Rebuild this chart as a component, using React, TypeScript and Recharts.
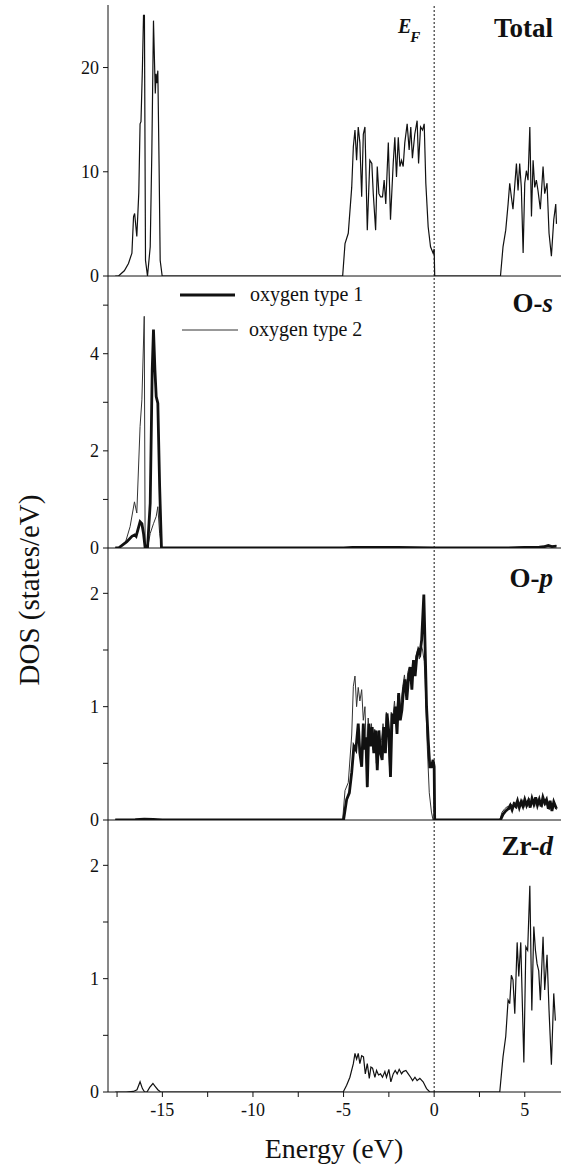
import { LineChart, Line, XAxis, YAxis, ReferenceLine } from 'recharts';

type Pt = [number, number];

const energyDomain: [number, number] = [-18, 7];
const energyTicks = [-17.5, -15, -12.5, -10, -7.5, -5, -2.5, 0, 2.5, 5];
const energyLabels = [-15, -10, -5, 0, 5];

// Total DOS
const totalDos: Pt[] = [
  [-17.6, 0], [-17.42, 0], [-17.1, 0.5], [-16.87, 1.2], [-16.68, 2.2], [-16.59, 5.7], [-16.53, 6.0],
  [-16.41, 3.8], [-16.3, 8], [-16.23, 14.6], [-16.18, 14.8], [-16.1, 20], [-16.04, 25.0], [-15.99, 25.0],
  [-15.93, 1.5], [-15.82, 0], [-15.67, 2.8], [-15.58, 12], [-15.49, 24.5], [-15.39, 17.5], [-15.35, 19.4],
  [-15.31, 18.5], [-15.25, 19.7], [-15.18, 10.5], [-15.12, 1.5], [-15.01, 0],
  [-5.05, 0], [-4.92, 3.1], [-4.74, 4.1], [-4.55, 8.5], [-4.46, 12.4], [-4.37, 14], [-4.28, 11.1],
  [-4.19, 14.3], [-4.1, 12.8], [-4.0, 7.6], [-3.91, 13.6], [-3.82, 14.3], [-3.69, 4.4], [-3.55, 11.1],
  [-3.44, 10.8], [-3.36, 7.9], [-3.23, 4.4], [-3.14, 10.5], [-3.05, 7.9], [-2.96, 7.6], [-2.85, 7.6],
  [-2.76, 9.2], [-2.67, 6.9], [-2.53, 12.8], [-2.41, 5.4], [-2.26, 10.8], [-2.17, 13.3], [-2.08, 9.5],
  [-1.98, 13.3], [-1.89, 10.5], [-1.8, 11.1], [-1.71, 10.5], [-1.62, 12.8], [-1.49, 14.6], [-1.38, 12.1],
  [-1.29, 14.3], [-1.2, 11.3], [-1.07, 13.6], [-0.94, 14.9], [-0.86, 10.8], [-0.75, 14.3], [-0.64, 14],
  [-0.55, 14.6], [-0.46, 8.9], [-0.33, 4.7], [-0.2, 2.8], [-0.06, 2.2], [0, 2.6], [0.03, 0],
  [3.66, 0], [3.8, 2.8], [3.95, 4.4], [4.08, 6.9], [4.17, 8.9], [4.26, 7.6], [4.35, 6.4], [4.44, 8.5],
  [4.54, 10.8], [4.63, 8.2], [4.72, 10.8], [4.81, 8.5], [4.91, 2.2], [5.0, 8.9], [5.09, 10.1], [5.18, 9.2],
  [5.28, 14.3], [5.37, 5.7], [5.46, 11.1], [5.55, 8.5], [5.64, 9.2], [5.73, 8.2], [5.86, 6.4], [6.01, 10.5],
  [6.1, 7.9], [6.23, 8.9], [6.34, 4.1], [6.47, 1.9], [6.6, 5.4], [6.71, 6.9], [6.75, 5.0],
];

// O-s
const osType1: Pt[] = [
  [-17.6, 0], [-17.42, 0], [-16.96, 0.13], [-16.68, 0.24], [-16.53, 0.27], [-16.45, 0.24], [-16.23, 0.54],
  [-16.13, 0.5], [-16.04, 0.3], [-15.95, 0], [-15.82, 0], [-15.67, 0.92], [-15.56, 3.67], [-15.49, 4.5],
  [-15.41, 3.67], [-15.34, 3.12], [-15.25, 2.98], [-15.15, 1.27], [-15.05, 0],
  [-5.0, 0], [-4.5, 0.01], [-2.0, 0.01], [0, 0], [3.7, 0], [5.0, 0.01], [5.8, 0.02], [6.1, 0.03],
  [6.3, 0.05], [6.5, 0.03], [6.75, 0.04],
];
const osType2: Pt[] = [
  [-17.6, 0], [-17.42, 0], [-17.05, 0.1], [-16.78, 0.44], [-16.54, 0.95], [-16.41, 0.72], [-16.23, 2.5],
  [-16.13, 3.05], [-16.0, 4.77], [-15.95, 0], [-15.82, 0], [-15.67, 0.3], [-15.49, 0.5], [-15.34, 0.65],
  [-15.25, 0.85], [-15.15, 0.3], [-15.03, 0],
  [-5.0, 0], [-4.4, 0.02], [-1.5, 0.01], [0, 0], [3.7, 0], [5.2, 0.02], [5.9, 0.03], [6.2, 0.05],
  [6.45, 0.03], [6.75, 0.05],
];

// O-p
const opType1: Pt[] = [
  [-17.6, 0], [-16.5, 0.004], [-16.0, 0.008], [-15.5, 0.006], [-15.0, 0],
  [-5.0, 0], [-4.83, 0.18], [-4.68, 0.24], [-4.55, 0.42], [-4.43, 0.65], [-4.32, 0.62], [-4.19, 0.85],
  [-4.1, 0.59], [-4.0, 0.47], [-3.91, 0.85], [-3.84, 0.62], [-3.77, 0.73], [-3.69, 0.29], [-3.6, 0.85],
  [-3.51, 0.65], [-3.42, 0.82], [-3.33, 0.59], [-3.23, 0.79], [-3.14, 0.44], [-3.05, 0.79], [-2.96, 0.59],
  [-2.87, 0.53], [-2.78, 0.82], [-2.69, 0.59], [-2.6, 0.94], [-2.51, 0.79], [-2.41, 0.38], [-2.32, 0.94],
  [-2.23, 0.85], [-2.14, 1.0], [-2.05, 0.76], [-1.96, 1.12], [-1.87, 0.88], [-1.78, 0.97], [-1.69, 1.15],
  [-1.6, 1.24], [-1.51, 1.06], [-1.42, 1.24], [-1.32, 1.35], [-1.23, 1.15], [-1.14, 1.41], [-1.05, 1.27],
  [-0.96, 1.44], [-0.87, 1.5], [-0.78, 1.47], [-0.69, 1.59], [-0.57, 1.99], [-0.5, 1.53], [-0.42, 1.0],
  [-0.33, 0.71], [-0.24, 0.47], [-0.15, 0.47], [-0.06, 0.53], [0, 0.47], [0.03, 0],
  [3.66, 0], [3.8, 0.05], [3.95, 0.08], [4.1, 0.1], [4.2, 0.13], [4.3, 0.09], [4.4, 0.14], [4.5, 0.12],
  [4.6, 0.17], [4.7, 0.11], [4.8, 0.16], [4.9, 0.12], [5.0, 0.18], [5.1, 0.13], [5.2, 0.17], [5.3, 0.11],
  [5.4, 0.19], [5.5, 0.14], [5.6, 0.2], [5.7, 0.13], [5.8, 0.18], [5.9, 0.12], [6.0, 0.2], [6.1, 0.15],
  [6.2, 0.18], [6.3, 0.1], [6.4, 0.17], [6.5, 0.08], [6.6, 0.16], [6.7, 0.12], [6.75, 0.1],
];
const opType2: Pt[] = [
  [-17.6, 0], [-16.3, 0.004], [-15.6, 0.004], [-15.0, 0],
  [-5.05, 0], [-4.92, 0.26], [-4.74, 0.33], [-4.55, 0.75], [-4.46, 1.18], [-4.37, 1.27], [-4.28, 1.0],
  [-4.19, 1.17], [-4.1, 1.05], [-4.0, 1.15], [-3.91, 0.88], [-3.82, 1.0], [-3.73, 0.55], [-3.64, 0.9],
  [-3.55, 0.7], [-3.46, 0.85], [-3.37, 0.62], [-3.28, 0.8], [-3.19, 0.5], [-3.1, 0.78], [-3.0, 0.6],
  [-2.91, 0.7], [-2.82, 0.85], [-2.73, 0.65], [-2.64, 0.95], [-2.55, 0.82], [-2.46, 0.45], [-2.37, 0.95],
  [-2.28, 0.9], [-2.19, 1.05], [-2.1, 0.85], [-2.0, 1.1], [-1.91, 0.95], [-1.82, 1.05], [-1.73, 1.18],
  [-1.64, 1.28], [-1.55, 1.12], [-1.46, 1.3], [-1.37, 1.35], [-1.28, 1.2], [-1.19, 1.4], [-1.1, 1.3],
  [-1.0, 1.45], [-0.91, 1.5], [-0.82, 1.42], [-0.73, 1.55], [-0.64, 1.5], [-0.55, 1.4], [-0.5, 1.24],
  [-0.38, 0.65], [-0.27, 0.24], [-0.15, 0.07], [-0.06, 0],
  [3.62, 0], [3.75, 0.07], [3.9, 0.1], [4.05, 0.12], [4.15, 0.09], [4.25, 0.14], [4.35, 0.11], [4.45, 0.16],
  [4.55, 0.1], [4.65, 0.15], [4.75, 0.13], [4.85, 0.18], [4.95, 0.11], [5.05, 0.16], [5.15, 0.12],
  [5.25, 0.19], [5.35, 0.13], [5.45, 0.17], [5.55, 0.12], [5.65, 0.2], [5.75, 0.14], [5.85, 0.17],
  [5.95, 0.11], [6.05, 0.18], [6.15, 0.13], [6.25, 0.16], [6.35, 0.09], [6.45, 0.15], [6.55, 0.1],
  [6.65, 0.14], [6.75, 0.09],
];

// Zr-d
const zrD: Pt[] = [
  [-17.6, 0], [-17.0, 0], [-16.6, 0.005], [-16.4, 0.02], [-16.23, 0.09], [-16.1, 0.03], [-15.98, 0],
  [-15.85, 0], [-15.7, 0.04], [-15.52, 0.075], [-15.4, 0.05], [-15.25, 0.02], [-15.1, 0],
  [-5.02, 0], [-4.83, 0.06], [-4.65, 0.13], [-4.46, 0.25], [-4.37, 0.34], [-4.28, 0.29], [-4.19, 0.34],
  [-4.1, 0.25], [-4.0, 0.32], [-3.9, 0.31], [-3.8, 0.16], [-3.69, 0.25], [-3.58, 0.12], [-3.49, 0.22],
  [-3.4, 0.21], [-3.27, 0.13], [-3.18, 0.19], [-3.07, 0.15], [-2.96, 0.16], [-2.85, 0.13], [-2.72, 0.18],
  [-2.63, 0.13], [-2.5, 0.2], [-2.39, 0.09], [-2.26, 0.16], [-2.15, 0.19], [-2.04, 0.16], [-1.93, 0.2],
  [-1.8, 0.16], [-1.71, 0.18], [-1.56, 0.19], [-1.43, 0.16], [-1.3, 0.13], [-1.19, 0.1], [-1.06, 0.13],
  [-0.94, 0.1], [-0.79, 0.12], [-0.61, 0.09], [-0.42, 0.03], [-0.24, 0],
  [3.62, 0], [3.8, 0.31], [3.95, 0.49], [4.08, 0.81], [4.17, 0.78], [4.26, 1.03], [4.35, 0.99], [4.45, 0.69],
  [4.58, 1.32], [4.67, 1.02], [4.78, 1.32], [4.95, 0.26], [5.06, 1.28], [5.16, 1.25], [5.28, 1.82],
  [5.39, 0.72], [5.5, 1.46], [5.59, 1.25], [5.68, 1.13], [5.77, 1.07], [5.86, 0.81], [6.01, 1.37],
  [6.1, 0.9], [6.23, 1.21], [6.34, 0.72], [6.47, 0.24], [6.6, 0.87], [6.69, 0.63],
];

const totalTicks = [0, 10, 20];
const totalLabels = [0, 10, 20];
const osTicks = [0, 1, 2, 3, 4, 5];
const osLabels = [0, 2, 4];
const opTicks = [0, 0.5, 1, 1.5, 2];
const opLabels = [0, 1, 2];

const SERIF = '"Liberation Serif", "Times New Roman", serif';
const tickStyle = { fontFamily: SERIF, fontSize: 18, fill: '#111', style: { fontFamily: SERIF } };
const axisStroke = { stroke: '#111', strokeWidth: 1 };

interface Series {
  data: Pt[];
  width: number;
  color: string;
}

interface PanelProps {
  plotTop: number;
  plotBottom: number;
  yMax: number;
  yTicks: number[];
  yLabels: number[];
  series: Series[];
  showXLabels?: boolean;
}

const PAD_TOP = 10;
const X_AXIS_H = 40;

function Panel({ plotTop, plotBottom, yMax, yTicks, yLabels, series, showXLabels }: PanelProps) {
  const h = plotBottom - plotTop + PAD_TOP + X_AXIS_H;
  return (
    <div style={{ position: 'absolute', left: 0, top: plotTop - PAD_TOP }}>
      <LineChart width={562} height={h} margin={{ top: PAD_TOP, right: 1, bottom: 0, left: 68 }}>
        <XAxis
          xAxisId="b"
          type="number"
          dataKey="e"
          domain={energyDomain}
          allowDataOverflow
          ticks={energyTicks}
          interval={0}
          height={X_AXIS_H}
          tickSize={5}
          tickMargin={6}
          axisLine={axisStroke}
          tickLine={axisStroke}
          tick={showXLabels ? tickStyle : false}
          tickFormatter={(v: number) => (energyLabels.includes(v) ? String(v) : '')}
        />
        <XAxis
          xAxisId="t"
          orientation="top"
          type="number"
          dataKey="e"
          domain={energyDomain}
          allowDataOverflow
          ticks={energyTicks}
          interval={0}
          height={0}
          tickSize={-5}
          axisLine={axisStroke}
          tickLine={axisStroke}
          tick={false}
        />
        <YAxis
          yAxisId="l"
          type="number"
          domain={[0, yMax]}
          allowDataOverflow
          ticks={yTicks}
          interval={0}
          width={40}
          tickSize={5}
          tickMargin={4}
          axisLine={axisStroke}
          tickLine={axisStroke}
          tick={tickStyle}
          tickFormatter={(v: number) => (yLabels.includes(v) ? String(v) : '')}
        />
        <YAxis
          yAxisId="r"
          orientation="right"
          type="number"
          domain={[0, yMax]}
          allowDataOverflow
          ticks={yTicks}
          interval={0}
          width={0}
          tickSize={-5}
          axisLine={axisStroke}
          tickLine={axisStroke}
          tick={false}
        />
        <ReferenceLine xAxisId="b" yAxisId="l" x={0} stroke="#111" strokeWidth={1} strokeDasharray="2 2" />
        {series.map((s, i) => (
          <Line
            key={i}
            xAxisId="b"
            yAxisId="l"
            data={s.data.map(([e, v]) => ({ e, v }))}
            dataKey="v"
            type="linear"
            stroke={s.color}
            strokeWidth={s.width}
            dot={false}
            activeDot={false}
            isAnimationActive={false}
          />
        ))}
      </LineChart>
    </div>
  );
}

const labelFont = { fill: '#111', style: { fontFamily: SERIF } };

export default function App() {
  return (
    <div style={{ position: 'absolute', left: 0, top: 0, width: 562, height: 1167, background: '#fff', fontFamily: SERIF }}>
      <Panel plotTop={5} plotBottom={276} yMax={26} yTicks={totalTicks} yLabels={totalLabels}
        series={[{ data: totalDos, width: 1.2, color: '#111' }]} />
      <Panel plotTop={276} plotBottom={548} yMax={5.6} yTicks={osTicks} yLabels={osLabels}
        series={[
          { data: osType2, width: 1, color: '#333' },
          { data: osType1, width: 2.8, color: '#111' },
        ]} />
      <Panel plotTop={548} plotBottom={820} yMax={2.4} yTicks={opTicks} yLabels={opLabels}
        series={[
          { data: opType2, width: 1, color: '#333' },
          { data: opType1, width: 2.8, color: '#111' },
        ]} />
      <Panel plotTop={820} plotBottom={1092} yMax={2.4} yTicks={opTicks} yLabels={opLabels}
        series={[{ data: zrD, width: 1.2, color: '#111' }]} showXLabels />

      <svg width={562} height={1167} style={{ position: 'absolute', left: 0, top: 0, pointerEvents: 'none' }}>
        <text x={553} y={37} textAnchor="end" fontSize={27} fontWeight="bold" {...labelFont}>Total</text>
        <text x={398} y={33} fontSize={20} fontWeight="bold" fontStyle="italic" {...labelFont}>
          E<tspan dx={-1} dy={9} fontSize={15}>F</tspan>
        </text>
        <text x={553} y={312} textAnchor="end" fontSize={27} fontWeight="bold" {...labelFont}>
          O-<tspan fontStyle="italic">s</tspan>
        </text>
        <text x={553} y={587} textAnchor="end" fontSize={27} fontWeight="bold" {...labelFont}>
          O-<tspan fontStyle="italic">p</tspan>
        </text>
        <text x={553} y={855} textAnchor="end" fontSize={27} fontWeight="bold" {...labelFont}>
          Zr-<tspan fontStyle="italic">d</tspan>
        </text>

        <line x1={180} x2={235} y1={295} y2={295} stroke="#111" strokeWidth={3} />
        <text x={250} y={301} fontSize={20} {...labelFont}>oxygen type 1</text>
        <line x1={182} x2={238} y1={330} y2={330} stroke="#333" strokeWidth={1} />
        <text x={249} y={336} fontSize={20} {...labelFont}>oxygen type 2</text>

        <text x={334} y={1158} textAnchor="middle" fontSize={28} {...labelFont}>Energy (eV)</text>
        <text x={39} y={590} textAnchor="middle" fontSize={29} transform="rotate(-90 39 590)" {...labelFont}>
          DOS (states/eV)
        </text>
      </svg>
    </div>
  );
}
